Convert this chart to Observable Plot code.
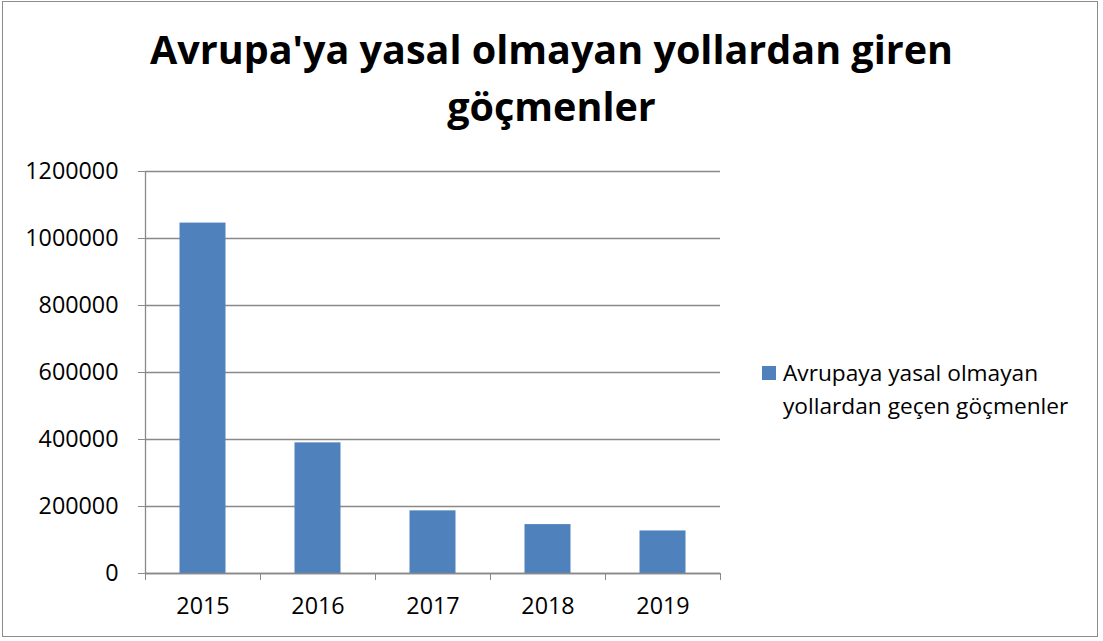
<!DOCTYPE html>
<html><head><meta charset="utf-8">
<script src="https://cdn.jsdelivr.net/npm/d3@7"></script>
<script src="https://cdn.jsdelivr.net/npm/@observablehq/plot@0.6"></script>
<style>
body{margin:0;background:#fff;}
#wrap{position:relative;width:1103px;height:641px;font-family:"Open Sans",sans-serif;color:#000;overflow:hidden;}
#frame{position:absolute;left:2px;top:1px;width:1096px;height:636px;border:1px solid #8c8c8c;box-sizing:border-box;}
#title{position:absolute;left:0;top:21px;width:1103px;text-align:center;font-weight:bold;font-size:39.5px;line-height:57px;}
#chart{position:absolute;left:0;top:0;}
#legend{position:absolute;left:762px;top:356px;font-size:22.7px;line-height:33px;}
#legend .sw{position:absolute;left:0;top:10px;width:14px;height:14px;background:#4f81bd;}
#legend .tx{margin-left:21px;}
</style></head>
<body>
<div id="wrap">
  <div id="frame"></div>
  <div id="chart"></div>
  <div id="title">Avrupa'ya yasal olmayan yollardan giren<br>göçmenler</div>
  <div id="legend"><div class="sw"></div><div class="tx">Avrupaya yasal olmayan<br>yollardan geçen göçmenler</div></div>
</div>
<script>
const years = ["2015", "2016", "2017", "2018", "2019"];
const values = [1046000, 390000, 187000, 146000, 127000];
const yTicks = [0, 200000, 400000, 600000, 800000, 1000000, 1200000];
const xEdges = [0, 1, 2, 3, 4, 5];

const data = years.map((year, i) => ({year, i, value: values[i]}));
const gridCol = "#898989";

const chart = Plot.plot({
  width: 1103,
  height: 641,
  marginLeft: 145,
  marginRight: 383,
  marginTop: 171,
  marginBottom: 68,
  style: {fontFamily: "'Open Sans', sans-serif", fontSize: "23px", color: "#000", background: "transparent", overflow: "visible"},
  x: {domain: [0, 5], axis: null},
  y: {domain: [0, 1200000], axis: null},
  marks: [
    Plot.gridY(yTicks, {stroke: gridCol, strokeOpacity: 1, strokeWidth: 1.3}),
    Plot.rectY(data, {x1: d => d.i + 0.3, x2: d => d.i + 0.7, y: "value", fill: "#4f81bd"}),
    Plot.ruleX([0], {stroke: gridCol, strokeWidth: 1.3}),
    Plot.ruleY([0], {stroke: gridCol, strokeWidth: 1.3}),
    Plot.axisY(yTicks, {tickSize: 7, tickPadding: 20, stroke: gridCol, fill: "#000", fontSize: 23.3, tickFormat: d => String(d), label: null}),
    Plot.axisX(xEdges, {tickSize: 7, stroke: gridCol, tickFormat: () => "", label: null}),
    Plot.axisX(data.map(d => d.i + 0.5), {tickSize: 0, tickPadding: 24, fill: "#000", fontSize: 23.3, tickFormat: v => years[Math.round(v - 0.5)], label: null})
  ]
});
document.getElementById("chart").appendChild(chart);
</script>
</body></html>
